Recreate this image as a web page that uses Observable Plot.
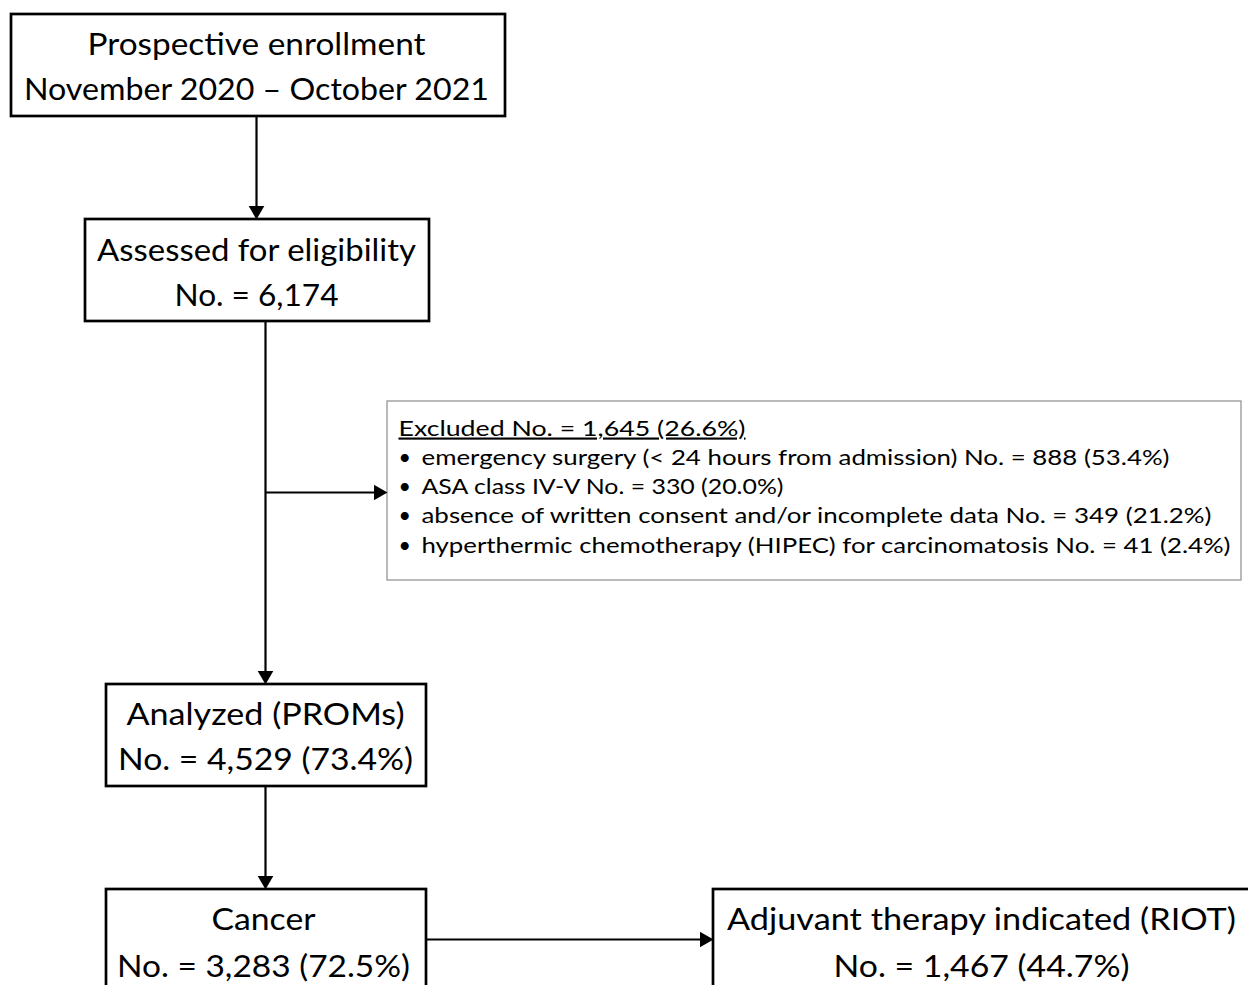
<!DOCTYPE html>
<html>
<head>
<meta charset="utf-8">
<script src="https://cdn.jsdelivr.net/npm/d3@7"></script>
<script src="https://cdn.jsdelivr.net/npm/@observablehq/plot@0.6"></script>
<style>
  html, body { margin: 0; padding: 0; background: #fff; }
  #chart svg { display: block; }
</style>
</head>
<body>
<div id="chart"></div>
<script>
// ---------- data ----------
const stages = ["Prospective enrollment", "Assessed for eligibility", "Analyzed (PROMs)", "Cancer", "Adjuvant therapy indicated (RIOT)"];
const enrollmentPeriod = "November 2020 – October 2021";
const stageCounts = [null, 6174, 4529, 3283, 1467];
const stagePercents = [null, null, 73.4, 72.5, 44.7];
const excludedTotal = 1645;
const excludedPercent = 26.6;
const exclusionReasons = [
  "emergency surgery (< 24 hours from admission)",
  "ASA class IV-V",
  "absence of written consent and/or incomplete data",
  "hyperthermic chemotherapy (HIPEC) for carcinomatosis"
];
const exclusionCounts = [888, 330, 349, 41];
const exclusionPercents = [53.4, 20.0, 21.2, 2.4];

// ---------- layout (pixel space of the figure) ----------
const W = 1248, H = 985;
const boxes = [
  {x1: 11,  x2: 505,  y1: 14,  y2: 116, cx: 256, base: [54, 99],   w: [338, 465]},
  {x1: 85,  x2: 429,  y1: 219, y2: 321, cx: 256, base: [260, 305], w: [319, 164]},
  {x1: 106, x2: 426,  y1: 684, y2: 786, cx: 265, base: [724, 769], w: [278, 295]},
  {x1: 106, x2: 426,  y1: 889, y2: 1000, cx: 263, base: [929, 976], w: [104, 293]},
  {x1: 713, x2: 1252, y1: 889, y2: 1000, cx: 981, base: [929, 976], w: [509, 296]}
];
const exclBox = {x1: 387, x2: 1241, y1: 401, y2: 580, tx: 398, bx: 398, lx: 421, base0: 435, step: 29.3,
  headW: 347, lineW: [748, 362, 790, 809]};

const fmt = d3.format(",");
const pct = v => v.toFixed(1) + "%";
function line2(i) {
  if (i === 0) return enrollmentPeriod;
  let s = "No. = " + fmt(stageCounts[i]);
  if (stagePercents[i] != null) s += " (" + pct(stagePercents[i]) + ")";
  return s;
}

const boxData = stages.map((s, i) => ({...boxes[i], l1: s, l2: line2(i)}));
const labelData = boxData.flatMap(b => [
  {x: b.cx, y: b.base[0], text: b.l1, w: b.w[0]},
  {x: b.cx, y: b.base[1], text: b.l2, w: b.w[1]}
]);

const exclHeader = `Excluded No. = ${fmt(excludedTotal)} (${pct(excludedPercent)})`;
const exclLines = exclusionReasons.map((r, i) => ({
  x: exclBox.lx, bx: exclBox.bx,
  y: exclBox.base0 + exclBox.step * (i + 1),
  w: exclBox.lineW[i],
  text: `${r} No. = ${exclusionCounts[i]} (${pct(exclusionPercents[i])})`
}));

const widthOf = new Map([
  ...labelData.map(d => [d.text, d.w]),
  ...exclLines.map(d => [d.text, d.w]),
  [exclHeader, exclBox.headW]
]);

// connectors
const links = [
  {x1: 256, y1: 116, x2: 256, y2: 219, dir: "down"},
  {x1: 265, y1: 321, x2: 265, y2: 684, dir: "down"},
  {x1: 265, y1: 786, x2: 265, y2: 889, dir: "down"},
  {x1: 426, y1: 939, x2: 713, y2: 939, dir: "right"},
  {x1: 265, y1: 492, x2: 387, y2: 492, dir: "right"}
];
const headR = 5.8;
const tipOff = 2 * Math.sqrt((headR * headR * Math.PI) / (Math.sqrt(3) * 3));
const heads = links.map(l => ({
  x: l.dir === "down" ? l.x2 : l.x2 - tipOff,
  y: l.dir === "down" ? l.y2 - tipOff : l.y2,
  rotate: l.dir === "down" ? 180 : 90
}));
const lineLinks = links.map(l => ({...l,
  x2: l.dir === "right" ? l.x2 - tipOff : l.x2,
  y2: l.dir === "down" ? l.y2 - tipOff : l.y2}));

const font = "Lato";

const chart = Plot.plot({
  width: W,
  height: H,
  margin: 0,
  x: {domain: [0, W], range: [0, W], axis: null},
  y: {domain: [0, H], range: [0, H], axis: null},
  style: {fontFamily: font, background: "#fff"},
  marks: [
    Plot.link(lineLinks, {x1: "x1", y1: "y1", x2: "x2", y2: "y2", stroke: "#000", strokeWidth: 2.2}),
    Plot.rect(boxData, {x1: "x1", x2: "x2", y1: "y1", y2: "y2", fill: "#fff", stroke: "#000", strokeWidth: 2.7}),
    Plot.rect([exclBox], {x1: "x1", x2: "x2", y1: "y1", y2: "y2", fill: "#fff", stroke: "#8c8c8c", strokeWidth: 1.2}),
    Plot.dot(heads, {x: "x", y: "y", symbol: "triangle", r: headR, fill: "#000", stroke: "none", rotate: "rotate"}),
    Plot.text(labelData, {x: "x", y: "y", text: "text", textAnchor: "middle", lineAnchor: "bottom",
      fontSize: 31, fill: "#000", fontFamily: font}),
    Plot.text([{x: exclBox.tx, y: exclBox.base0, text: exclHeader}], {x: "x", y: "y", text: "text",
      textAnchor: "start", lineAnchor: "bottom", fontSize: 21.5, fill: "#000", fontFamily: font}),
    Plot.text(exclLines, {x: "bx", y: "y", text: () => "•", textAnchor: "start", lineAnchor: "bottom",
      fontSize: 21.5, fill: "#000", fontFamily: font}),
    Plot.text(exclLines, {x: "x", y: "y", text: "text", textAnchor: "start", lineAnchor: "bottom",
      fontSize: 21.5, fill: "#000", fontFamily: font})
  ]
});

d3.select(chart).selectAll("text").each(function() {
  const t = this.textContent;
  if (widthOf.has(t)) {
    d3.select(this).attr("textLength", widthOf.get(t)).attr("lengthAdjust", "spacingAndGlyphs");
  }
  if (t.startsWith("Excluded")) d3.select(this).attr("text-decoration", "underline");
});

document.getElementById("chart").appendChild(chart);
</script>
</body>
</html>
